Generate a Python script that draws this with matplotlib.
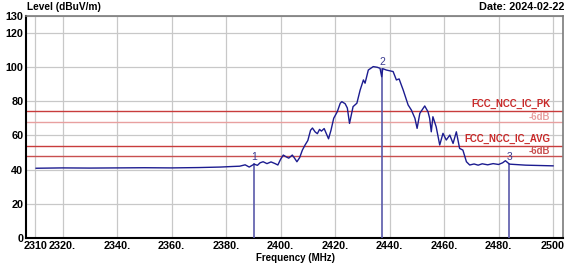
import matplotlib
matplotlib.use("Agg")
import matplotlib.pyplot as plt

plt.rcParams['font.family'] = ['Liberation Sans', 'DejaVu Sans']

# trace (MHz, dBuV/m)
freq = [2310.3, 2320, 2330, 2340, 2350, 2360, 2370, 2378, 2382, 2385, 2387, 2388.5,
        2390.3, 2391.5, 2392.5, 2393.6, 2395, 2396.5, 2398, 2399, 2400, 2401, 2402,
        2403, 2404.3, 2405, 2406, 2407, 2408, 2409, 2410, 2411, 2411.7, 2412.7,
        2413.5, 2414.3, 2415, 2416, 2417.6, 2418.5, 2419.5, 2420.8, 2421.9, 2422.5,
        2423.7, 2424.5, 2425.3, 2426.6, 2428, 2429.2, 2430.4, 2431, 2432.2, 2434,
        2435.5, 2436.5, 2437.1, 2437.5, 2438.8, 2441.3, 2442.5, 2443.5, 2444.3,
        2445, 2446.8, 2448, 2449.3, 2450.1, 2451.1, 2452.9, 2454.1, 2454.7, 2455.3,
        2455.9, 2457.1, 2458.4, 2459.6, 2460.8, 2462.1, 2463.3, 2464.5, 2465.7,
        2466.9, 2468.2, 2469.4, 2471, 2472.5, 2474, 2476, 2478, 2480, 2481.5,
        2482.5, 2484, 2486, 2490, 2495, 2500]
level = [40.8, 41.0, 40.9, 41.0, 41.1, 41.0, 41.2, 41.5, 41.8, 42.0, 42.8, 41.5,
         43.2, 42.5, 44.0, 44.6, 43.5, 44.5, 43.5, 42.7, 46.0, 48.5, 47.5,
         46.7, 48.5, 47.0, 44.6, 47.0, 51.4, 54.4, 57.0, 63.0, 64.3, 62.0,
         61.0, 63.5, 62.5, 64.0, 58.0, 63.0, 70.0, 73.8, 78.8, 79.7,
         78.5, 76.0, 67.0, 76.8, 78.8, 86.5, 92.4, 90.5, 98.2, 100.2,
         99.8, 99.2, 94.3, 99.0, 98.2, 97.3, 92.4, 93.0, 89.5,
         86.5, 77.8, 74.8, 70.0, 64.1, 72.9, 77.2, 73.8, 70.0, 62.1,
         70.9, 65.0, 54.4, 61.2, 57.3, 60.2, 55.3, 62.1, 52.4,
         51.4, 44.6, 42.7, 43.3, 42.6, 43.4, 42.8, 43.5, 43.0, 44.0,
         45.2, 43.2, 43.0, 42.6, 42.4, 42.2]

marker_freq = [2390.3, 2437.2, 2484.0]
marker_level = [43.2, 98.8, 43.2]
marker_label = ['1', '2', '3']

limit_names = ['FCC_NCC_IC_PK', 'FCC_NCC_IC_AVG']
limit_values = [74, 54]
margin_db = 6

x_ticks = [2310, 2320, 2340, 2360, 2380, 2400, 2420, 2440, 2460, 2480, 2500]
x_labels = ['2310', '2320.', '2340.', '2360.', '2380.', '2400.', '2420.',
            '2440.', '2460.', '2480.', '2500']
y_ticks = [0, 20, 40, 60, 80, 100, 120, 130]

fig = plt.figure(figsize=(5.66, 2.69), dpi=100)
ax = fig.add_axes([0.046, 0.115, 0.949, 0.827])

ax.set_xlim(2306.6, 2503.7)
ax.set_ylim(0, 130)
ax.set_xticks(x_ticks)
ax.set_xticklabels(x_labels, fontsize=7.8, fontweight='bold')
ax.set_yticks(y_ticks)
ax.set_yticklabels([str(v) for v in y_ticks], fontsize=7.8, fontweight='bold')
ax.tick_params(length=0, pad=2)
ax.grid(True, color='#c8c8c8', linewidth=0.9)
ax.set_axisbelow(True)

for side in ['left', 'bottom']:
    ax.spines[side].set_color('black')
    ax.spines[side].set_linewidth(1.5)
for side in ['top', 'right']:
    ax.spines[side].set_color('#7a7a7a')
    ax.spines[side].set_linewidth(1.2)

# limit lines
pk_colors = [('#c83c3c', '#e8a0a0'), ('#c83c3c', '#c85050')]
for name, val, (c1, c2) in zip(limit_names, limit_values, pk_colors):
    ax.axhline(val, color=c1, linewidth=1.0, zorder=2)
    ax.axhline(val - margin_db, color=c2, linewidth=1.0, zorder=2)
    ax.annotate(name, (2498.9, val), xytext=(0, 1.5), textcoords='offset points',
                ha='right', va='bottom', color='#c82828', fontsize=6.9,
                fontweight='bold')
    ax.annotate('-6dB', (2498.9, val), xytext=(0, -0.5), textcoords='offset points',
                ha='right', va='top', color=c2, fontsize=6.9, fontweight='bold')

# trace
ax.plot(freq, level, color='#1c1c90', linewidth=1.0, zorder=4)

# markers
for f, lv, lab in zip(marker_freq, marker_level, marker_label):
    ax.plot([f, f], [0, lv], color='#5a5aaa', linewidth=1.2, zorder=3)
    ax.annotate(lab, (f, lv), xytext=(0, 1.5), textcoords='offset points',
                ha='center', va='bottom', color='#3a3a90', fontsize=7.5)

fig.text(0.047, 0.975, 'Level (dBuV/m)', ha='left', va='center',
         fontsize=7.3, fontweight='bold')
fig.text(0.997, 0.975, 'Date: 2024-02-22', ha='right', va='center',
         fontsize=7.8, fontweight='bold')
fig.text(0.522, 0.042, 'Frequency (MHz)', ha='center', va='center',
         fontsize=7.0, fontweight='bold')

fig.savefig('out.png', dpi=100)
